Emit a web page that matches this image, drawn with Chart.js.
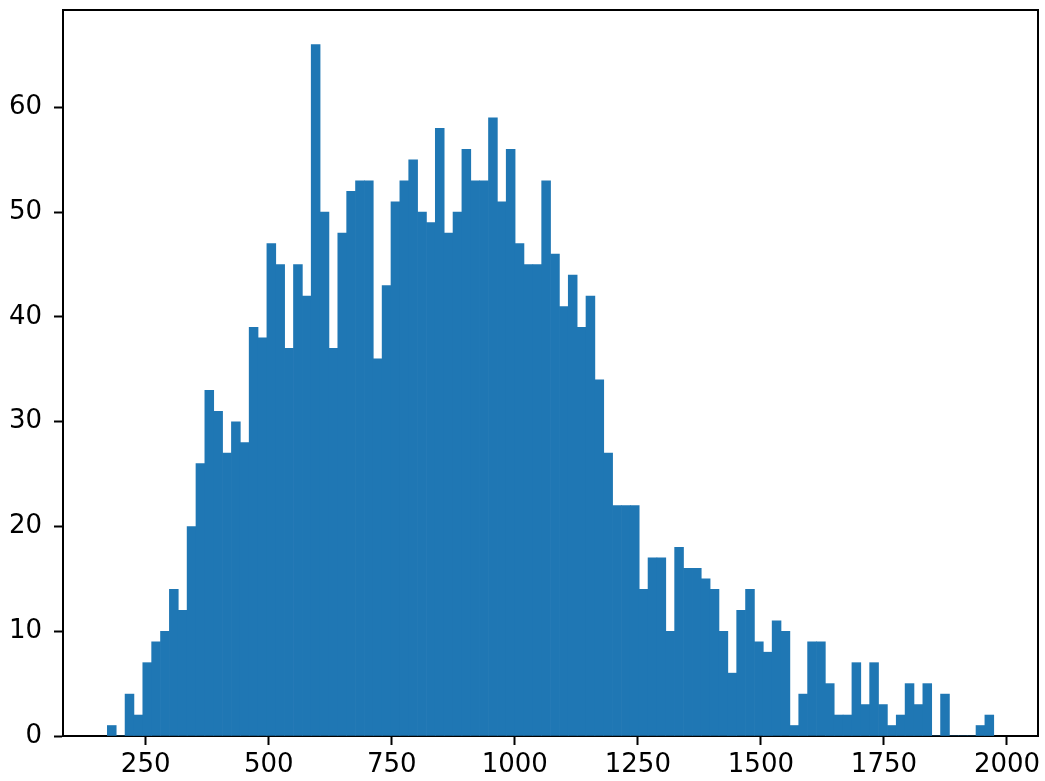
<!DOCTYPE html>
<html>
<head>
<meta charset="utf-8">
<title>Histogram</title>
<script src="https://cdn.jsdelivr.net/npm/chart.js@4.4.0/dist/chart.umd.min.js"></script>
<style>
  html, body { margin: 0; padding: 0; background: #ffffff; }
  canvas { display: block; }
</style>
</head>
<body>
<canvas id="myChart" width="1045" height="781"></canvas>
<script>
// DATA
const binStart = 172.1;
const binWidth = 18.01;
const counts = [
  1, 0, 4, 2, 7, 9, 10, 14, 12, 20,
  26, 33, 31, 27, 30, 28, 39, 38, 47, 45,
  37, 45, 42, 66, 50, 37, 48, 52, 53, 53,
  36, 43, 51, 53, 55, 50, 49, 58, 48, 50,
  56, 53, 53, 59, 51, 56, 47, 45, 45, 53,
  46, 41, 44, 39, 42, 34, 27, 22, 22, 22,
  14, 17, 17, 10, 18, 16, 16, 15, 14, 10,
  6, 12, 14, 9, 8, 11, 10, 1, 4, 9,
  9, 5, 2, 2, 7, 3, 7, 3, 1, 2,
  5, 3, 5, 0, 4, 0, 0, 0, 1, 2
];
const xTicks = [250, 500, 750, 1000, 1250, 1500, 1750, 2000];
const yTicks = [0, 10, 20, 30, 40, 50, 60];
const xLimits = [82.0, 2063.0];
const yLimits = [0, 69.3];

// bin centres for the bars
const points = counts.map((c, i) => ({ x: binStart + binWidth * (i + 0.5), y: c }));

Chart.defaults.font.family = "'DejaVu Sans', sans-serif";
Chart.defaults.font.size = 26;
Chart.defaults.color = '#000000';

// top and right spines
const frame = {
  id: 'frame',
  afterDraw(chart) {
    const a = chart.chartArea;
    const ctx = chart.ctx;
    ctx.save();
    ctx.strokeStyle = '#000000';
    ctx.lineWidth = 2;
    ctx.beginPath();
    ctx.moveTo(a.left, a.top);
    ctx.lineTo(a.right, a.top);
    ctx.lineTo(a.right, a.bottom);
    ctx.stroke();
    ctx.restore();
  }
};

function noPadding(scale) {
  scale.paddingTop = 0;
  scale.paddingBottom = 0;
  scale.paddingLeft = 0;
  scale.paddingRight = 0;
}

const config = {
  type: 'bar',
  data: {
    datasets: [{
      data: points,
      backgroundColor: '#1f77b4',
      borderWidth: 0,
      barPercentage: 1.0,
      categoryPercentage: 1.0
    }]
  },
  options: {
    responsive: false,
    animation: false,
    devicePixelRatio: 1,
    layout: { padding: { top: 10, right: 7, left: 0, bottom: 0 } },
    plugins: {
      legend: { display: false },
      tooltip: { enabled: false }
    },
    scales: {
      x: {
        type: 'linear',
        offset: false,
        min: xLimits[0],
        max: xLimits[1],
        afterBuildTicks: (scale) => { scale.ticks = xTicks.map(v => ({ value: v })); },
        afterFit: (scale) => { scale.height = 45; noPadding(scale); },
        grid: { display: true, offset: false, drawOnChartArea: false, drawTicks: true,
                tickLength: 9, tickColor: '#000000', tickWidth: 2 },
        border: { display: true, color: '#000000', width: 2 },
        ticks: { padding: 5, maxRotation: 0, autoSkip: false, callback: (v) => String(v) }
      },
      y: {
        type: 'linear',
        min: yLimits[0],
        max: yLimits[1],
        afterBuildTicks: (scale) => { scale.ticks = yTicks.map(v => ({ value: v })); },
        afterFit: (scale) => { scale.width = 63; noPadding(scale); },
        grid: { display: true, drawOnChartArea: false, drawTicks: true,
                tickLength: 9, tickColor: '#000000', tickWidth: 2 },
        border: { display: true, color: '#000000', width: 2 },
        ticks: { padding: 12, callback: (v) => String(v) }
      }
    }
  },
  plugins: [frame]
};

const myChart = new Chart(document.getElementById('myChart'), config);
</script>
</body>
</html>
